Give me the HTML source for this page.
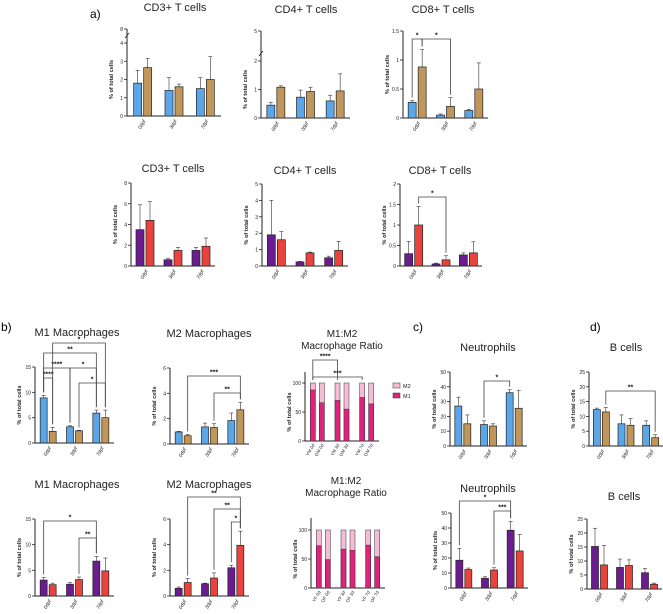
<!DOCTYPE html>
<html><head><meta charset="utf-8"><style>
html,body{margin:0;padding:0;background:#fff;}
svg{display:block;font-family:"Liberation Sans",sans-serif;}
</style></head><body>
<svg id="fig" width="663" height="614" viewBox="0 0 663 614" xmlns="http://www.w3.org/2000/svg">
<text x="90" y="18" font-size="12">a)</text>
<text x="1" y="331" font-size="12">b)</text>
<text x="413" y="331" font-size="12">c)</text>
<text x="590" y="331" font-size="12">d)</text>
</svg>
<script>
const NS="http://www.w3.org/2000/svg";
const svg=document.getElementById('fig');
const BLUE="#5aa6e8",BROWN="#c0965a",PURPLE="#6b1d8f",RED="#e8433d",M1C="#e0227c",M2C="#f6bcd6";
const dpf=["0dpf","3dpf","7dpf"];

// ---- data arrays ----
const cd3TopA=[1.8,1.4,1.5], cd3TopB=[2.65,1.6,2.0], cd3TopEA=[0.7,0.7,0.6], cd3TopEB=[0.5,0.15,1.25];
const cd4TopA=[0.45,0.73,0.6], cd4TopB=[1.08,0.93,0.95], cd4TopEA=[0.1,0.25,0.2], cd4TopEB=[0.05,0.15,0.6];
const cd8TopA=[0.27,0.05,0.13], cd8TopB=[0.88,0.2,0.5], cd8TopEA=[0.03,0.02,0.02], cd8TopEB=[0.3,0.15,0.45];
const cd3BotA=[3.5,0.6,1.5], cd3BotB=[4.4,1.5,1.9], cd3BotEA=[2.4,0.1,0.3], cd3BotEB=[1.8,0.3,0.8];
const cd4BotA=[1.9,0.25,0.5], cd4BotB=[1.6,0.8,0.95], cd4BotEA=[2.1,0.03,0.1], cd4BotEB=[0.5,0.05,0.55];
const cd8BotA=[0.3,0.05,0.27], cd8BotB=[1.0,0.15,0.32], cd8BotEA=[0.3,0.02,0.05], cd8BotEB=[0.45,0.1,0.27];
const m1TopA=[8.9,3.2,5.9], m1TopB=[2.3,2.4,5.0], m1TopEA=[0.5,0.2,0.6], m1TopEB=[0.8,0.1,1.5];
const m2TopA=[0.95,1.35,1.85], m2TopB=[0.65,1.3,2.7], m2TopEA=[0.05,0.3,0.6], m2TopEB=[0.1,0.3,0.6];
const ratioTopM1=[88,66,70,55,75,64], ratioTopCats=["YM 0d","OM 0d","YM 3d","OM 3d","YM 7d","OM 7d"];
const neutTopA=[27,14.5,36], neutTopB=[15,13.5,25.5], neutTopEA=[6,2.5,2], neutTopEB=[6,1.5,12];
const bTopA=[12.3,7.5,7], bTopB=[11.5,7,2.8], bTopEA=[0.5,3,1.5], bTopEB=[1.5,2.3,1];
const m1BotA=[3.1,2.3,6.8], m1BotB=[2.2,3.2,4.9], m1BotEA=[0.5,0.3,0.9], m1BotEB=[0.3,0.5,2.5];
const m2BotA=[0.6,0.95,2.2], m2BotB=[1.05,1.4,3.95], m2BotEA=[0.1,0.05,0.2], m2BotEB=[0.3,0.4,1.1];
const ratioBotM1=[73,49,67,65,74,54], ratioBotCats=["YF 0d","OF 0d","YF 3d","OF 3d","YF 7d","OF 7d"];
const neutBotA=[18.5,6.5,38.5], neutBotB=[12.3,12,24.7], neutBotEA=[8,1,6], neutBotEB=[1,1.5,11];
const bBotA=[15.2,7.7,5.8], bBotB=[8.6,8.4,1.7], bBotEA=[6.5,3,1.5], bBotEB=[7,2,0.4];

function el(tag,attrs,parent,name){const e=document.createElementNS(NS,tag);for(const k in attrs)e.setAttribute(k,attrs[k]);
 
 
 (parent||svg).appendChild(e);return e;}
function txt(x,y,s,size,parent,name,extra){const t=el('text',Object.assign({x:x,y:y,'font-size':size,fill:'#222'},extra||{}),parent,name);t.textContent=s;return t;}

function panel(p){
 const g=el('g',{},svg,p.name);
 const ys=v=>p.y0-(Math.min(v,p.max)/p.max)*(p.y0-p.yTop);
 const nG=p.cats.length, band=(p.x1-p.x0)/nG, bw=p.bw||7, gap=p.gap||2;
 const bx=(i,s)=>p.x0+band*(i+0.5)+(s===0?-(bw+gap)/2:(bw+gap)/2);
 // titles
 p.title.forEach((t,k)=>txt(p.tx,p.ty+k*12,t,p.tsize||11,g,'chart-title',{'text-anchor':'middle'}));
 // axis
 const top=p.axTop||(p.brk?p.brk.y:p.yTop);
 el('line',{x1:p.x0,y1:top,x2:p.x0,y2:p.y0,stroke:'#222','stroke-width':1},g,'y-axis');
 el('line',{x1:p.x0,y1:p.y0,x2:p.x1,y2:p.y0,stroke:'#222','stroke-width':1},g,'x-axis');
 p.ticks.forEach(v=>{const y=ys(v);
  el('line',{x1:p.x0-3,y1:y,x2:p.x0,y2:y,stroke:'#222','stroke-width':0.8},g,'y-tick');
  txt(p.x0-4,y+2,String(v),5,g,'y-tick-label',{'text-anchor':'end'});});
 if(p.brk){el('line',{x1:p.x0-3,y1:p.brk.y,x2:p.x0,y2:p.brk.y,stroke:'#222','stroke-width':0.8},g,'y-tick');
  txt(p.x0-4,p.brk.y+2,p.brk.label,5,g,'y-tick-label',{'text-anchor':'end'});
  el('line',{x1:p.x0-2,y1:p.yTop-5,x2:p.x0+2,y2:p.yTop-10,stroke:'#222','stroke-width':0.8},g,'axis-break');}
 txt(0,0,'% of total cells',5.6,g,'y-axis-title',{'text-anchor':'middle','font-weight':'bold',transform:`translate(${p.x0-14},${(p.y0+p.yTop)/2}) rotate(-90)`});
 if(p.stack){
  p.stack.forEach((v,j)=>{const i=Math.floor(j/2),s=j%2;const x=bx(i,s)-bw/2;
   el('rect',{x:x,y:ys(100),width:bw,height:ys(0)-ys(100),fill:M2C,stroke:'#333','stroke-width':0.5},g,'bar-m2');
   el('rect',{x:x,y:ys(v),width:bw,height:ys(0)-ys(v),fill:M1C,stroke:'#333','stroke-width':0.5},g,'bar-m1');
   txt(0,0,p.scats[j],4.5,g,'x-tick-label',{'text-anchor':'end',transform:`translate(${x+bw/2+2},${p.y0+4}) rotate(-60)`});});
 } else {
  [[p.a,p.ea,p.ca],[p.b,p.eb,p.cb]].forEach((sr,s)=>{sr[0].forEach((v,i)=>{const x=bx(i,s);
   el('rect',{x:x-bw/2,y:ys(v),width:bw,height:p.y0-ys(v),fill:sr[2],stroke:'#222','stroke-width':0.7},g,'bar-'+p.cats[i]+'-'+(s?'b':'a'));
   const ye=ys(v+sr[1][i]);
   el('line',{x1:x,y1:ye,x2:x,y2:ys(v),stroke:'#333','stroke-width':0.6},g,'error-bar');
   el('line',{x1:x-2,y1:ye,x2:x+2,y2:ye,stroke:'#333','stroke-width':0.6},g,'error-cap');});});
  p.cats.forEach((c,i)=>txt(0,0,c,5,g,'x-tick-label',{'text-anchor':'end','font-style':'italic',transform:`translate(${p.x0+band*(i+0.5)+3},${p.y0+5}) rotate(-60)`}));
 }
 (p.sig||[]).forEach(sg=>{const [g1,s1,g2,s2,y,lab]=sg;const xa=bx(g1,s1),xb=bx(g2,s2);
  const topOf=(gi,si)=>{if(p.stack)return ys(100)-3;const arr=si?p.b:p.a,e=si?p.eb:p.ea;return ys(arr[gi]+e[gi])-3;};
  el('path',{d:`M${xa},${Math.max(topOf(g1,s1),y+3)}V${y}H${xb}V${Math.max(topOf(g2,s2),y+3)}`,fill:'none',stroke:'#444','stroke-width':0.8},g,'significance-bracket');
  txt((xa+xb)/2,y-1.5,lab,7,g,'significance-label',{'text-anchor':'middle','font-weight':'bold'});});
 if(p.legend){const L=p.legend;
  el('rect',{x:L.x,y:L.y-5,width:7,height:5,fill:M2C,stroke:'#333','stroke-width':0.5},g,'legend-swatch-m2');
  txt(L.x+10,L.y,'M2',5.5,g,'legend-label-m2');
  el('rect',{x:L.x,y:L.y+5,width:7,height:5,fill:M1C,stroke:'#333','stroke-width':0.5},g,'legend-swatch-m1');
  txt(L.x+10,L.y+10,'M1',5.5,g,'legend-label-m1');}
}

panel({name:'cd3-top-chart',title:['CD3+ T cells'],tx:175,ty:11,x0:127,x1:221,y0:116,yTop:43,max:4,ticks:[0,1,2,3,4],brk:{label:'8',y:29},cats:dpf,a:cd3TopA,b:cd3TopB,ea:cd3TopEA,eb:cd3TopEB,ca:BLUE,cb:BROWN,bw:8});
panel({name:'cd4-top-chart',title:['CD4+ T cells'],tx:306,ty:13,x0:261,x1:350,y0:118,yTop:61,max:2,ticks:[0,1,2],brk:{label:'5',y:31},cats:dpf,a:cd4TopA,b:cd4TopB,ea:cd4TopEA,eb:cd4TopEB,ca:BLUE,cb:BROWN,bw:8});
panel({name:'cd8-top-chart',title:['CD8+ T cells'],tx:443,ty:13,x0:403,x1:488,y0:118,yTop:31,max:1.5,ticks:[0,0.5,1.0,1.5],cats:dpf,a:cd8TopA,b:cd8TopB,ea:cd8TopEA,eb:cd8TopEB,ca:BLUE,cb:BROWN,bw:8,
 sig:[[0,0,0,1,39,'*'],[0,1,1,1,39,'*']]});
panel({name:'cd3-bottom-chart',title:['CD3+ T cells'],tx:173,ty:172,x0:131,x1:215,y0:266,yTop:183,max:8,ticks:[0,2,4,6,8],cats:dpf,a:cd3BotA,b:cd3BotB,ea:cd3BotEA,eb:cd3BotEB,ca:PURPLE,cb:RED,bw:8});
panel({name:'cd4-bottom-chart',title:['CD4+ T cells'],tx:305,ty:174,x0:262,x1:348,y0:266,yTop:184,max:5,ticks:[0,1,2,3,4,5],cats:dpf,a:cd4BotA,b:cd4BotB,ea:cd4BotEA,eb:cd4BotEB,ca:PURPLE,cb:RED,bw:8});
panel({name:'cd8-bottom-chart',title:['CD8+ T cells'],tx:440,ty:174,x0:400,x1:482,y0:266,yTop:184,max:2,ticks:[0,0.5,1.0,1.5,2.0],cats:dpf,a:cd8BotA,b:cd8BotB,ea:cd8BotEA,eb:cd8BotEB,ca:PURPLE,cb:RED,bw:8,
 sig:[[0,1,1,1,197,'*']]});

panel({name:'m1-top-chart',title:['M1 Macrophages'],tx:77,ty:336,x0:35,x1:114,y0:443,yTop:367,max:15,ticks:[0,5,10,15],cats:dpf,a:m1TopA,b:m1TopB,ea:m1TopEA,eb:m1TopEB,ca:BLUE,cb:BROWN,
 sig:[[0,0,0,1,378,'****'],[0,0,1,0,368,'****'],[1,0,2,0,368,'*'],[0,0,2,0,353,'**'],[0,1,2,1,343,'*'],[1,1,2,1,383,'*']]});
panel({name:'m2-top-chart',title:['M2 Macrophages'],tx:209,ty:337,x0:170,x1:249,y0:444,yTop:368,max:6,ticks:[0,2,4,6],cats:dpf,a:m2TopA,b:m2TopB,ea:m2TopEA,eb:m2TopEB,ca:BLUE,cb:BROWN,
 sig:[[0,1,2,1,376,'***'],[1,1,2,1,393,'**']]});
panel({name:'ratio-top-chart',title:['M1:M2','Macrophage Ratio'],tsize:10,tx:342,ty:337,x0:305,x1:379,y0:441,yTop:383,axTop:372,max:100,ticks:[0,50,100],cats:[0,1,2],stack:ratioTopM1,scats:ratioTopCats,bw:5,gap:4,
 sig:[[0,0,1,0,360,'****'],[0,0,2,0,377,'***']],legend:{x:393,y:388}});
panel({name:'neutrophils-top-chart',title:['Neutrophils'],tx:488,ty:351,x0:450,x1:527,y0:446,yTop:372,max:50,ticks:[0,10,20,30,40,50],cats:dpf,a:neutTopA,b:neutTopB,ea:neutTopEA,eb:neutTopEB,ca:BLUE,cb:BROWN,
 sig:[[1,0,2,0,381,'*']]});
panel({name:'b-cells-top-chart',title:['B cells'],tx:626,ty:351,x0:589,x1:663,y0:446,yTop:372,max:25,ticks:[0,5,10,15,20,25],cats:dpf,a:bTopA,b:bTopB,ea:bTopEA,eb:bTopEB,ca:BLUE,cb:BROWN,
 sig:[[0,1,2,1,391,'**']]});

panel({name:'m1-bottom-chart',title:['M1 Macrophages'],tx:77,ty:488,x0:35,x1:114,y0:596,yTop:519,max:15,ticks:[0,5,10,15],cats:dpf,a:m1BotA,b:m1BotB,ea:m1BotEA,eb:m1BotEB,ca:PURPLE,cb:RED,
 sig:[[0,0,2,0,521,'*'],[1,1,2,0,538,'**']]});
panel({name:'m2-bottom-chart',title:['M2 Macrophages'],tx:209,ty:488,x0:170,x1:249,y0:596,yTop:519,max:6,ticks:[0,2,4,6],cats:dpf,a:m2BotA,b:m2BotB,ea:m2BotEA,eb:m2BotEB,ca:PURPLE,cb:RED,
 sig:[[0,1,2,1,497,'**'],[1,1,2,1,509,'**'],[2,0,2,1,522,'*']]});
panel({name:'ratio-bottom-chart',title:['M1:M2','Macrophage Ratio'],tsize:10,tx:346,ty:484,x0:311,x1:385,y0:588,yTop:530,axTop:518,max:100,ticks:[0,50,100],cats:[0,1,2],stack:ratioBotM1,scats:ratioBotCats,bw:5,gap:4});
panel({name:'neutrophils-bottom-chart',title:['Neutrophils'],tx:488,ty:492,x0:451,x1:528,y0:588,yTop:513,max:50,ticks:[0,10,20,30,40,50],cats:dpf,a:neutBotA,b:neutBotB,ea:neutBotEA,eb:neutBotEB,ca:PURPLE,cb:RED,
 sig:[[0,0,2,0,501,'*'],[1,1,2,0,511,'***']]});
panel({name:'b-cells-bottom-chart',title:['B cells'],tx:624,ty:500,x0:587,x1:662,y0:589,yTop:519,max:25,ticks:[0,5,10,15,20,25],cats:dpf,a:bBotA,b:bBotB,ea:bBotEA,eb:bBotEB,ca:PURPLE,cb:RED});
</script>
</body></html>
